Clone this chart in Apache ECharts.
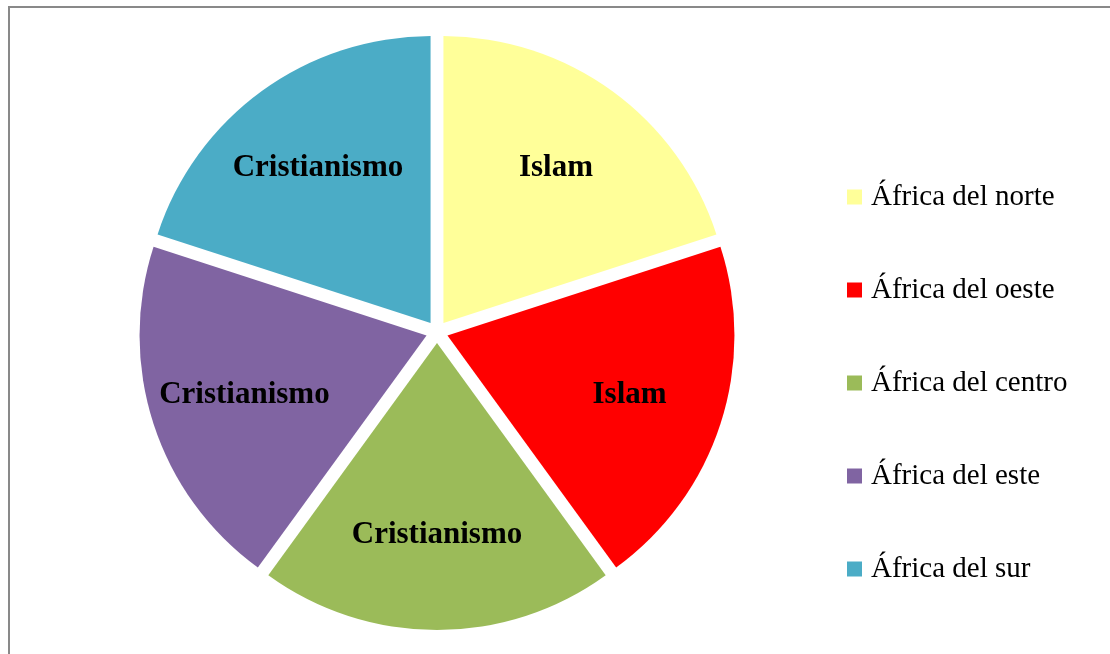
<!DOCTYPE html>
<html>
<head>
<meta charset="utf-8">
<title>Religión por región de África</title>
<script src="https://cdn.jsdelivr.net/npm/echarts@6/dist/echarts.min.js"></script>
<style>
  html, body { margin: 0; padding: 0; background: #fff; overflow: hidden; }
  #chart { position: absolute; left: 0; top: 0; width: 1110px; height: 654px; }
  #frame { position: absolute; left: 8px; top: 6px; width: 1110px; height: 660px;
           border-top: 2px solid #898989; border-left: 2px solid #898989; pointer-events: none; }
</style>
</head>
<body>
<div id="chart"></div>
<div id="frame"></div>
<script>
// Regions of Africa and the main religion written on each slice
const regions = ['África del norte', 'África del oeste', 'África del centro', 'África del este', 'África del sur'];
const religions = ['Islam', 'Islam', 'Cristianismo', 'Cristianismo', 'Cristianismo'];
const shares = [1, 1, 1, 1, 1];

const palette = ['#FFFF99', '#FF0000', '#9BBB59', '#8064A2', '#4BACC6'];
const serif = '"Liberation Serif", "Times New Roman", "DejaVu Serif", serif';

const center = [437, 332];
const outerR = 287;

function sliceData(colorFn) {
  return regions.map((name, i) => ({
    name: name,
    value: shares[i],
    selected: true,
    itemStyle: { color: colorFn(i) }
  }));
}

const common = {
  type: 'pie',
  center: center,
  startAngle: 90,
  clockwise: true,
  selectedMode: 'multiple',
  selectedOffset: 11,
  animation: false,
  emphasis: { disabled: true },
  labelLine: { show: false }
};

const chart = echarts.init(document.getElementById('chart'), null, { renderer: 'canvas' });
chart.setOption({
  animation: false,
  legend: {
    orient: 'vertical',
    left: 842,
    top: 177,
    icon: 'rect',
    itemWidth: 15,
    itemHeight: 15,
    itemGap: 63,
    selectedMode: false,
    data: regions,
    textStyle: { fontFamily: serif, fontSize: 29, color: '#000', lineHeight: 30, padding: [0, 0, 0, 4] }
  },
  series: [
    Object.assign({}, common, {
      name: 'Regiones',
      radius: [0, outerR],
      label: { show: false },
      data: sliceData(i => palette[i])
    }),
    // Transparent ring that only carries the religion labels
    Object.assign({}, common, {
      name: 'Religión',
      radius: [90, outerR],
      silent: true,
      label: {
        show: true,
        position: 'inside',
        formatter: p => religions[p.dataIndex],
        fontFamily: serif,
        fontWeight: 'bold',
        fontSize: 31,
        color: '#000'
      },
      data: sliceData(() => 'rgba(0,0,0,0)')
    })
  ]
});
</script>
</body>
</html>
